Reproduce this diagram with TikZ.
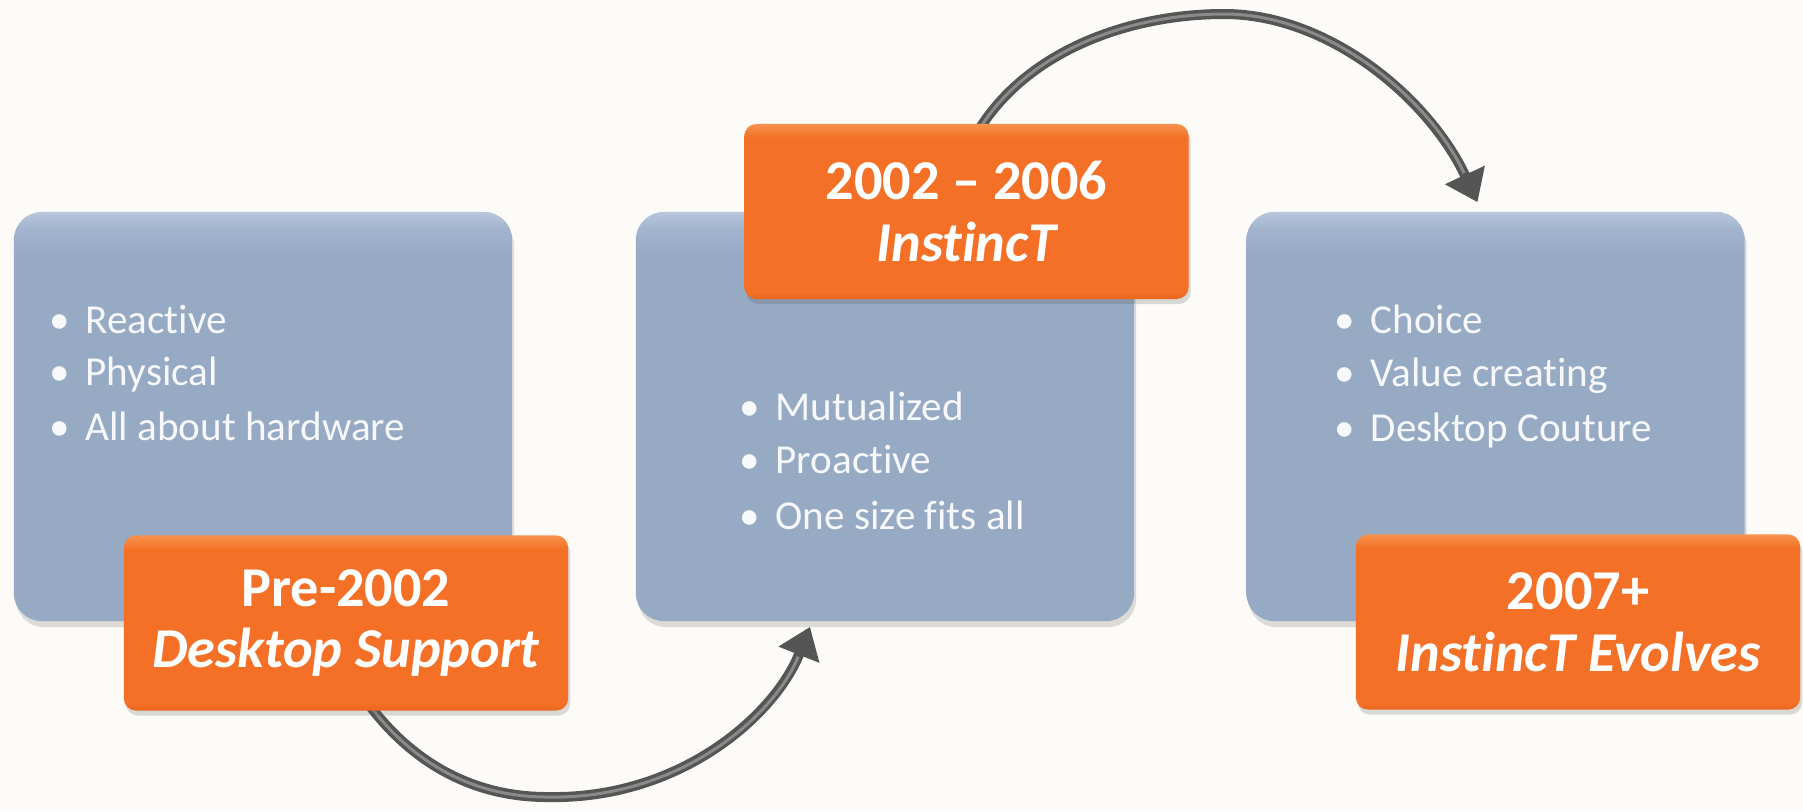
\documentclass[tikz,border=0pt]{standalone}
\usepackage{fontspec}
\setmainfont{Carlito}[Ligatures=NoCommon]
\usetikzlibrary{arrows.meta,shadows,backgrounds}
\definecolor{bgc}{HTML}{FCFBF8}
\definecolor{bluebox}{HTML}{97AAC4}
\definecolor{bluemid}{HTML}{A3B5CE}
\definecolor{bluehi}{HTML}{B6C6DC}
\definecolor{orangebox}{HTML}{F37026}
\definecolor{orangelow}{HTML}{E9661E}
\definecolor{orangehi}{HTML}{F8934E}
\definecolor{arrowdark}{HTML}{555555}
\definecolor{arrowlight}{HTML}{8A8A8A}
\definecolor{itemtext}{HTML}{F6F8FB}
\pgfdeclareverticalshading{bluecardshade}{100bp}{color(0bp)=(bluebox); color(25bp)=(bluebox); color(70bp)=(bluebox); color(73bp)=(bluemid); color(75bp)=(bluehi); color(100bp)=(bluehi)}
\pgfdeclareverticalshading{orangecardshade}{100bp}{color(0bp)=(orangelow); color(25bp)=(orangelow); color(27bp)=(orangebox); color(71bp)=(orangebox); color(75bp)=(orangehi); color(100bp)=(orangehi)}
\pgfdeclarelayer{bottom}
\pgfsetlayers{bottom,background,main}
\newcommand\bulletmark{\makebox[0.36cm][l]{•}}
\tikzset{
  bluecard/.style={rectangle, rounded corners=0.28cm, shading=bluecardshade,
    minimum width=4.98cm, minimum height=4.09cm, inner sep=0pt,
    drop shadow={shadow xshift=0.02cm, shadow yshift=-0.06cm, opacity=0.18, fill=black!70}},
  orangecard/.style={rectangle, rounded corners=0.12cm, shading=orangecardshade,
    minimum width=4.44cm, minimum height=1.75cm, inner sep=0pt, align=center,
    text=white, font=\fontsize{16pt}{17.6pt}\selectfont\bfseries,
    drop shadow={shadow xshift=0.02cm, shadow yshift=-0.05cm, opacity=0.2, fill=black!70}},
  itemline/.style={anchor=base west, inner sep=0pt, text=itemtext,
    font=\fontsize{11.7pt}{14pt}\selectfont},
  arrowshaft/.style={draw=arrowdark, line width=0.1cm,
    -{Triangle[width=0.42cm,length=0.3cm]}},
  arrowhilite/.style={draw=arrowlight, line width=0.03cm, shorten >=0.32cm}
}
\begin{document}
\begin{tikzpicture}[x=0.01cm,y=-0.01cm]
\begin{pgfonlayer}{bottom}
\fill[bgc] (0,0) rectangle (1803,811);
\end{pgfonlayer}
\useasboundingbox (0,0) rectangle (1803,811);

% blue cards
\node[bluecard] (b1) at (263,416.5) {};
\node[bluecard] (b2) at (885,416.5) {};
\node[bluecard] (b3) at (1495.5,416.5) {};

% bullet lines
\node[itemline] (l11) at (49,333) {\bulletmark Reactive};
\node[itemline] (l12) at (49,385) {\bulletmark Physical};
\node[itemline] (l13) at (49,440) {\bulletmark All about hardware};
\node[itemline] (l21) at (739,420) {\bulletmark Mutualized};
\node[itemline] (l22) at (739,473) {\bulletmark Proactive};
\node[itemline] (l23) at (739,529) {\bulletmark One size fits all};
\node[itemline] (l31) at (1334,333) {\bulletmark Choice};
\node[itemline] (l32) at (1334,386) {\bulletmark Value creating};
\node[itemline] (l33) at (1334,441) {\bulletmark Desktop Couture};

% orange labels
\node[orangecard] (o1) at (346,623) {Pre-2002\\{\itshape Desktop Support}};
\node[orangecard] (o2) at (966.5,211.5) {2002 – 2006\\{\itshape InstincT}};
\node[orangecard] (o3) at (1578,622) {2007+\\{\itshape InstincT Evolves}};

% connectors
\begin{pgfonlayer}{background}
\draw[arrowshaft] ([shift={(22,-8)}]o1.south) .. controls (410,760) and (470,797) .. (547,797)
  .. controls (680,800) and (775,715) .. ([shift={(-75,5)}]b2.south);
\draw[arrowhilite] ([shift={(22,-8)}]o1.south) .. controls (410,760) and (470,797) .. (547,797)
  .. controls (680,800) and (775,715) .. ([shift={(-75,5)}]b2.south);
\draw[arrowshaft] ([shift={(14,4)}]o2.north) .. controls (1030,50) and (1130,14) .. (1224,14)
  .. controls (1330,14) and (1430,100) .. ([shift={(-18,-9)}]b3.north);
\draw[arrowhilite] ([shift={(14,4)}]o2.north) .. controls (1030,50) and (1130,14) .. (1224,14)
  .. controls (1330,14) and (1430,100) .. ([shift={(-18,-9)}]b3.north);
\end{pgfonlayer}
\end{tikzpicture}
\end{document}
